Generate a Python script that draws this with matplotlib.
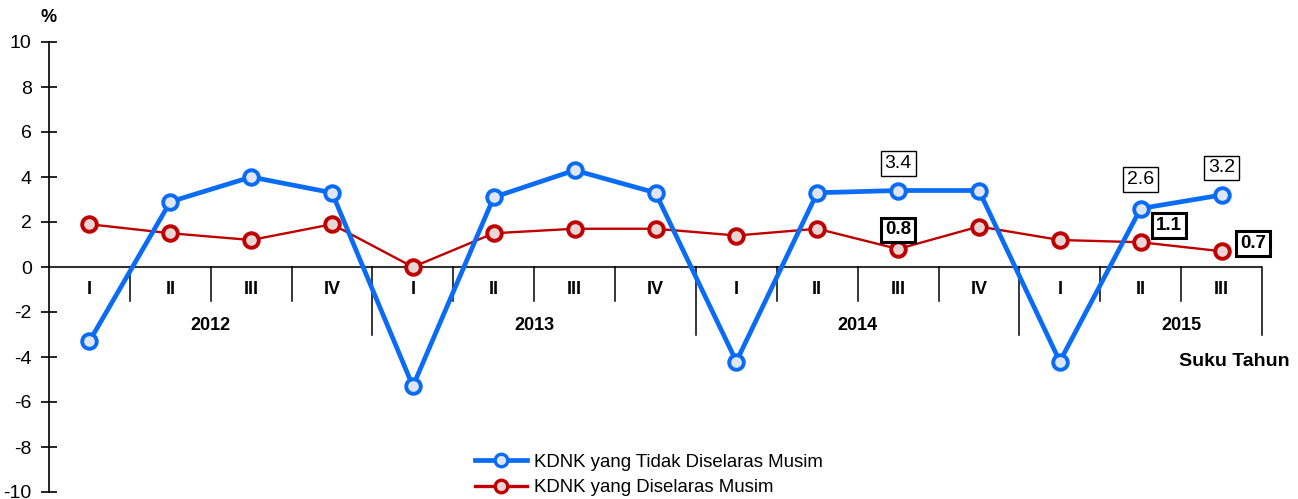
import numpy as np
import matplotlib
matplotlib.use("Agg")
import matplotlib.pyplot as plt
from matplotlib.lines import Line2D

plt.rcParams['font.family'] = ['Liberation Sans', 'DejaVu Sans']
plt.rcParams['axes.unicode_minus'] = False

# Data
quarters = ['I', 'II', 'III', 'IV', 'I', 'II', 'III', 'IV',
            'I', 'II', 'III', 'IV', 'I', 'II', 'III']
years = ['2012', '2013', '2014', '2015']
quarters_per_year = [4, 4, 4, 3]
not_adjusted = [-3.3, 2.9, 4.0, 3.3, -5.3, 3.1, 4.3, 3.3,
                -4.2, 3.3, 3.4, 3.4, -4.2, 2.6, 3.2]
adjusted = [1.9, 1.5, 1.2, 1.9, 0.0, 1.5, 1.7, 1.7,
            1.4, 1.7, 0.8, 1.8, 1.2, 1.1, 0.7]
label_blue = {10: '3.4', 13: '2.6', 14: '3.2'}
label_red = {10: '0.8', 13: '1.1', 14: '0.7'}

blue = '#0a6cf5'
red = '#c00000'

fig = plt.figure(figsize=(12.98, 4.99), dpi=100)
ax = fig.add_axes([49 / 1298, 1 - 492 / 499, (1262 - 49) / 1298, (492 - 42) / 499])

x = np.arange(len(quarters))

# series
ax.plot(x, not_adjusted, color=blue, lw=3.4, zorder=4,
        marker='o', ms=10.5, mfc='#dfe6f2', mec=blue, mew=2.8)
ax.plot(x, adjusted, color=red, lw=1.7, zorder=3,
        marker='o', ms=10.5, mfc='#e8d6d6', mec=red, mew=2.8)

# axes
ax.set_xlim(-0.5, len(quarters) - 0.5)
ax.set_ylim(-10, 10)
ax.set_yticks(np.arange(-10, 11, 2))
ax.set_xticks([])
for s in ['top', 'right', 'bottom']:
    ax.spines[s].set_visible(False)
ax.spines['left'].set_linewidth(1.2)
ax.tick_params(axis='y', direction='inout', length=11, width=1.2, labelsize=14, pad=7)
ax.axhline(0, color='#333333', lw=1.5, zorder=2)

# quarter and year separators
year_ends = np.cumsum(quarters_per_year)
for i in range(1, len(quarters) + 1):
    if i in year_ends:
        ax.plot([i - 0.5, i - 0.5], [0, -3.0], color='black', lw=1.1, clip_on=False)
    else:
        ax.plot([i - 0.5, i - 0.5], [0, -1.5], color='black', lw=1.1, clip_on=False)

for i, q in enumerate(quarters):
    ax.text(i, -1.0, q, ha='center', va='center', fontsize=13, fontweight='bold')

start = 0
for y, n in zip(years, quarters_per_year):
    ax.text(start + 1.5, -2.6, y, ha='center', va='center', fontsize=13, fontweight='bold')
    start += n

ax.text(1.023, -4.2, 'Suku Tahun', transform=ax.get_yaxis_transform(), ha='right',
        va='center', fontsize=14, fontweight='bold', clip_on=False)
ax.text(-0.5, 11.1, '%', ha='center', va='center', fontsize=13,
        fontweight='bold', clip_on=False)

# value labels
blue_off = {10: (0, 1.2), 13: (0, 1.3), 14: (0, 1.2)}
for i, t in label_blue.items():
    dx, dy = blue_off[i]
    ax.text(i + dx, not_adjusted[i] + dy, t, ha='center', va='center', fontsize=14,
            bbox=dict(boxstyle='square,pad=0.2', fc='white', ec='black', lw=1.0), zorder=6)
red_off = {10: (0, 0.85), 13: (0.35, 0.75), 14: (0.39, 0.35)}
for i, t in label_red.items():
    dx, dy = red_off[i]
    ax.text(i + dx, adjusted[i] + dy, t, ha='center', va='center', fontsize=13.5,
            fontweight='bold',
            bbox=dict(boxstyle='square,pad=0.2', fc='white', ec='black', lw=2.2), zorder=6)

# legend
handles = [
    Line2D([], [], color=blue, lw=3.4, marker='o', ms=9, mfc='#dfe6f2', mec=blue, mew=2.4),
    Line2D([], [], color=red, lw=2.4, marker='o', ms=9, mfc='#e8d6d6', mec=red, mew=2.4),
]
fig.legend(handles, ['KDNK yang Tidak Diselaras Musim', 'KDNK yang Diselaras Musim'],
           loc='center', bbox_to_anchor=(649 / 1298, 1 - 475 / 499), frameon=False,
           fontsize=13.4, handlelength=2.8, handletextpad=0.35, labelspacing=0.45,
           borderpad=0.1)

fig.savefig('out.png', dpi=100)
